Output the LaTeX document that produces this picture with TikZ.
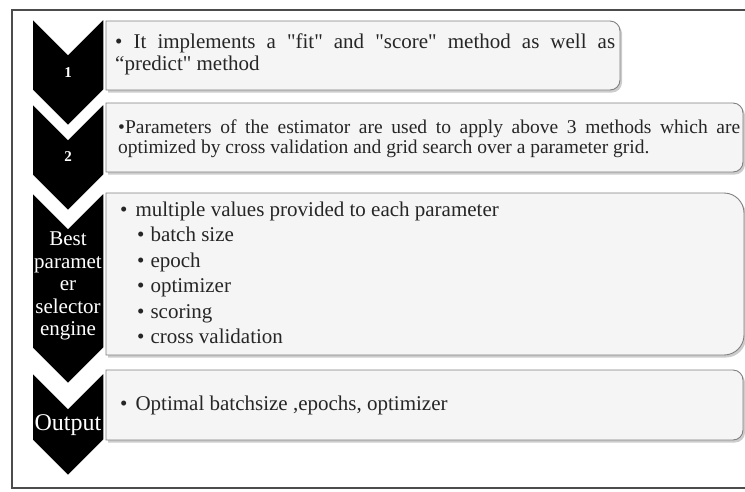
\documentclass[tikz,border=0pt]{standalone}
\usepackage{fontspec}
\setmainfont{Liberation Serif}[Ligatures=TeXOff]
\usetikzlibrary{positioning,shadows}

\begin{document}
\begin{tikzpicture}[x=1pt,y=-1pt,
		panel/.style={draw=black!50,line width=0.9pt,fill=black!4,
			drop shadow={shadow xshift=2pt,shadow yshift=-2.5pt,opacity=0.4}},
		chev/.style={fill=black,draw=white,line width=1.5pt},
		lbl/.style={text=white,align=center,inner sep=0pt},
		txt/.style={text=black!85,anchor=base west,inner sep=0pt}]
		\useasboundingbox (0,0) rectangle (745,491);
		% outer frame
		\draw[black!70,line width=1.2pt] (750,10) -- (12,10) -- (12,488) -- (750,488);
		
		% panels
		\draw[panel] (106,21) [rounded corners=10pt] -- (620,21) -- (620,90) [sharp corners] -- (106,90) -- cycle;
		\draw[panel] (106,103) [rounded corners=10pt] -- (743,103) -- (743,172) [sharp corners] -- (106,172) -- cycle;
		\draw[panel] (106,193) [rounded corners=20pt] -- (744,193) -- (744,355) [sharp corners] -- (106,355) -- cycle;
		\draw[panel] (106,370) [rounded corners=10pt] -- (743,370) -- (743,440) [sharp corners] -- (106,440) -- cycle;
		
		% chevrons
		\draw[chev] (32,18) -- (68,54) -- (104,18) -- (104,90) -- (68,126) -- (32,90) -- cycle;
		\draw[chev] (32,103) -- (68,139) -- (104,103) -- (104,175) -- (68,211) -- (32,175) -- cycle;
		\draw[chev] (32,192) -- (68,228) -- (104,192) -- (104,348) -- (68,384) -- (32,348) -- cycle;
		\draw[chev] (32,372) -- (68,408) -- (104,372) -- (104,440) -- (68,476) -- (32,440) -- cycle;
		
		\node[lbl,font=\fontsize{15}{15}\selectfont\bfseries] (step1) at (68,73) {1};
		\node[lbl,font=\fontsize{15}{15}\selectfont\bfseries] (step2) at (68,157) {2};
		\node[lbl,font=\fontsize{21}{22.5}\selectfont] (engine) at (68,286) {Best\\paramet\\er\\selector\\engine};
		\node[lbl,font=\fontsize{24}{24}\selectfont] (output) at (68,425) {Output};
		
		% texts
		\node[txt,text width=500pt,align=justify,font=\fontsize{21}{22}\selectfont] (fit) at (115,48)
			{\hangindent=13pt\hangafter=1 \textbullet\ It implements a "fit" and "score" method as well as\linebreak “predict" method};
		\node[txt,text width=622pt,align=justify,font=\fontsize{19.5}{20.5}\selectfont] (params) at (118,133)
			{\hangindent=7pt\hangafter=1 \textbullet Parameters of the estimator are used to apply above 3 methods which are\linebreak optimized by cross validation and grid search over a parameter grid.};
		\node[txt,font=\fontsize{21}{22}\selectfont] (multi) at (120,216) {\textbullet\hspace{8pt}multiple values provided to each parameter};
		\foreach \w [count=\i] in {batch size,epoch,optimizer,scoring,cross validation}
			\node[txt,font=\fontsize{21}{22}\selectfont] (sub\i) at (137,{216+25.5*\i}) {\textbullet\hspace{6pt}\w};
		\node[txt,font=\fontsize{21}{22}\selectfont] (best) at (120,410) {\textbullet\hspace{8pt}Optimal batchsize ,epochs, optimizer};
	\end{tikzpicture}
\end{document}
